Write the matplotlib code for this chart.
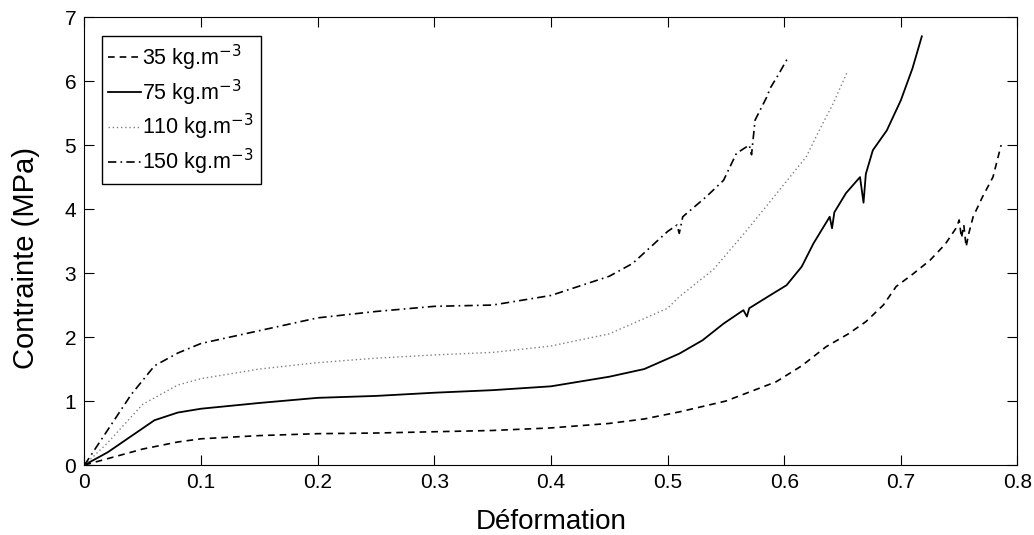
"""Stress-strain curves for foams of four densities."""
import matplotlib
matplotlib.use('Agg')
import matplotlib.pyplot as plt

plt.rcParams['font.family'] = ['Liberation Sans', 'DejaVu Sans']

# 35 kg/m3
x35 = [0, 0.02, 0.05, 0.08, 0.1, 0.15, 0.2, 0.25, 0.3, 0.35, 0.4, 0.45, 0.48,
       0.51, 0.55, 0.593, 0.615, 0.636, 0.655, 0.67, 0.685, 0.696, 0.71, 0.725,
       0.738, 0.748, 0.750, 0.752, 0.754, 0.756, 0.758, 0.762, 0.770, 0.779, 0.786]
y35 = [0, 0.1, 0.25, 0.36, 0.41, 0.46, 0.49, 0.5, 0.52, 0.54, 0.58, 0.65, 0.72,
       0.83, 1.0, 1.3, 1.55, 1.85, 2.05, 2.24, 2.5, 2.79, 2.98, 3.2, 3.45,
       3.72, 3.83, 3.55, 3.75, 3.41, 3.6, 3.88, 4.19, 4.5, 5.0]

# 75 kg/m3
x75 = [0, 0.02, 0.04, 0.06, 0.08, 0.1, 0.15, 0.2, 0.25, 0.3, 0.35, 0.4, 0.45,
       0.48, 0.51, 0.53, 0.548, 0.565, 0.568, 0.570, 0.585, 0.602, 0.615,
       0.625, 0.639, 0.641, 0.643, 0.653, 0.665, 0.668, 0.670, 0.676, 0.688,
       0.70, 0.71, 0.718]
y75 = [0, 0.2, 0.45, 0.7, 0.82, 0.88, 0.97, 1.05, 1.08, 1.13, 1.17, 1.23, 1.38,
       1.5, 1.74, 1.95, 2.21, 2.42, 2.32, 2.45, 2.62, 2.81, 3.1,
       3.46, 3.88, 3.7, 3.95, 4.25, 4.5, 4.1, 4.55, 4.92, 5.23,
       5.7, 6.2, 6.7]

# 110 kg/m3
x110 = [0, 0.02, 0.05, 0.08, 0.1, 0.15, 0.2, 0.25, 0.3, 0.35, 0.4, 0.45, 0.5,
        0.51, 0.539, 0.568, 0.596, 0.619, 0.630, 0.642, 0.654]
y110 = [0, 0.35, 0.95, 1.25, 1.35, 1.5, 1.6, 1.67, 1.72, 1.76, 1.86, 2.05, 2.45,
        2.63, 3.05, 3.67, 4.3, 4.82, 5.23, 5.65, 6.14]

# 150 kg/m3
x150 = [0, 0.02, 0.04, 0.06, 0.08, 0.1, 0.15, 0.2, 0.25, 0.3, 0.35, 0.4, 0.45,
        0.47, 0.5, 0.508, 0.51, 0.513, 0.533, 0.548, 0.559, 0.570, 0.572,
        0.575, 0.585, 0.588, 0.595, 0.603]
y150 = [0, 0.55, 1.1, 1.55, 1.75, 1.9, 2.1, 2.3, 2.4, 2.48, 2.5, 2.65, 2.95,
        3.15, 3.65, 3.75, 3.62, 3.88, 4.19, 4.45, 4.87, 5.0, 4.85,
        5.39, 5.75, 5.89, 6.1, 6.36]

labels = ['35 kg.m$^{-3}$', '75 kg.m$^{-3}$', '110 kg.m$^{-3}$', '150 kg.m$^{-3}$']

fig = plt.figure(figsize=(10.34, 5.35), dpi=100)
ax = fig.add_axes([0.0817, 0.1308, 0.9023, 0.8372])

ax.plot(x35, y35, color='black', linestyle=(0, (4, 3)), linewidth=1.2, label=labels[0])
ax.plot(x75, y75, color='black', linestyle='-', linewidth=1.3, label=labels[1])
ax.plot(x110, y110, color='#808080', linestyle=(0, (1, 2)), linewidth=1.0, label=labels[2])
ax.plot(x150, y150, color='black', linestyle=(0, (5, 2.5, 1, 2.5)), linewidth=1.2, label=labels[3])

ax.set_xlim(0, 0.8)
ax.set_ylim(0, 7)
ax.set_xticks([0, 0.1, 0.2, 0.3, 0.4, 0.5, 0.6, 0.7, 0.8])
ax.set_xticklabels(['0', '0.1', '0.2', '0.3', '0.4', '0.5', '0.6', '0.7', '0.8'])
ax.set_yticks(range(8))
ax.tick_params(direction='in', top=True, right=True, labelsize=15, length=7, pad=6)
ax.set_xlabel('Déformation', fontsize=20, labelpad=12)
ax.set_ylabel('Contrainte (MPa)', fontsize=21)
ax.yaxis.set_label_coords(-0.048, 0.462)

leg = ax.legend(loc='upper left', bbox_to_anchor=(0.0188, 0.958), fontsize=15.5,
                handlelength=1.5, handletextpad=0.08, borderpad=0.3,
                borderaxespad=0.0, labelspacing=0.22, fancybox=False,
                framealpha=1, edgecolor='black')
leg.get_frame().set_linewidth(1.0)

plt.savefig('out.png', dpi=100, facecolor='white')
